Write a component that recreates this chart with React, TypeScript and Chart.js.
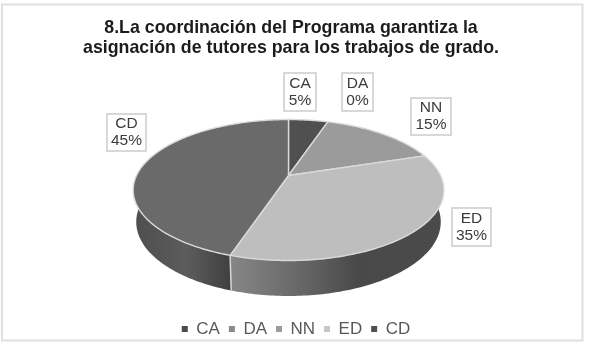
import React, { useEffect, useRef } from "react";
import { Chart, registerables } from "chart.js";

Chart.register(...registerables);

const categories = ["CA", "DA", "NN", "ED", "CD"];
const values = [5, 0, 15, 35, 45];
const titleLines = ["8.La coordinación del Programa garantiza la", "asignación de tutores para los trabajos de grado."];
const topColors = ["#505050", "#8a8a8a", "#9b9b9b", "#bebebe", "#6a6a6a"];
const legendColors = ["#4a4a4a", "#8a8a8a", "#9b9b9b", "#c6c6c6", "#505050"];

const labelBoxes = [
  [284, 73, 32, 38],
  [342, 73, 31, 38],
  [411, 98, 40, 37],
  [452, 208, 39, 38],
  [107, 114, 39, 37],
];

const K = 0.206;
const project = (a: number, cx: number, cy: number, A: number, B: number) => {
  const u = Math.cos(a);
  const v = Math.sin(a);
  const w = 1 - K * v;
  return [cx + (A * u) / w, cy + (B * v) / w];
};
const topP = (a: number) => project(a, 288.5, 175.5, 152, 67.5);
const lowP = (a: number) => project(a, 288.5, 206.7, 149, 70.9);

const arcPoints = (s: number, e: number, f: (a: number) => number[]) => {
  const out: number[][] = [];
  const n = Math.max(2, Math.ceil(Math.abs(e - s) * 60));
  for (let i = 0; i <= n; i++) out.push(f(s + ((e - s) * i) / n));
  return out;
};

const pie3d = {
  id: "pie3d",
  afterLayout(chart: any) {
    chart.legend.left += 5;
    chart.legend.right += 5;
    chart.legend.top += 2.5;
    chart.legend.bottom += 2.5;
  },
  beforeDraw(chart: any) {
    const { ctx, width, height } = chart;
    ctx.save();
    ctx.fillStyle = "#ffffff";
    ctx.fillRect(0, 0, width, height);
    ctx.strokeStyle = "#e0e0e0";
    ctx.lineWidth = 2;
    ctx.strokeRect(2, 4.5, 580.5, 336);
    ctx.restore();
  },
  beforeDatasetDraw(chart: any) {
    const { ctx } = chart;
    const arcs = chart.getDatasetMeta(0).data;
    ctx.save();
    ctx.lineJoin = "round";
    const front = (s: number, e: number) => [Math.max(s, 0), Math.min(e, Math.PI)];
    arcs.forEach((arc: any, i: number) => {
      const [s, e] = front(arc.startAngle, arc.endAngle);
      if (e <= s) return;
      const top = arcPoints(s, e, topP);
      const low = arcPoints(e, s, lowP);
      const x0 = Math.min(...top.map((p) => p[0]));
      const x1 = Math.max(...top.map((p) => p[0]));
      const g = ctx.createLinearGradient(x0, 0, x1, 0);
      if (i === 3) {
        g.addColorStop(0, "#868686");
        g.addColorStop(0.3, "#6a6a6a");
        g.addColorStop(0.6, "#494949");
        g.addColorStop(1, "#4b4b4b");
      } else {
        g.addColorStop(0, "#4e4e4e");
        g.addColorStop(0.55, "#5c5c5c");
        g.addColorStop(1, "#404040");
      }
      ctx.beginPath();
      [...top, ...low].forEach((p, j) => (j ? ctx.lineTo(p[0], p[1]) : ctx.moveTo(p[0], p[1])));
      ctx.closePath();
      ctx.fillStyle = g;
      ctx.fill();
    });
    const split = arcs[3].endAngle;
    const a = topP(split);
    const b = lowP(split);
    ctx.strokeStyle = "#d8d8d8";
    ctx.lineWidth = 1.5;
    ctx.beginPath();
    ctx.moveTo(a[0], a[1]);
    ctx.lineTo(b[0], b[1]);
    ctx.stroke();
    const hub = [288.5, 175.5];
    arcs.forEach((arc: any, i: number) => {
      if (arc.endAngle - arc.startAngle <= 0) return;
      const pts = arcPoints(arc.startAngle, arc.endAngle, topP);
      ctx.beginPath();
      ctx.moveTo(hub[0], hub[1]);
      pts.forEach((p) => ctx.lineTo(p[0], p[1]));
      ctx.closePath();
      ctx.fillStyle = topColors[i];
      ctx.fill();
      ctx.strokeStyle = "#dadada";
      ctx.lineWidth = 1.4;
      ctx.stroke();
    });
    ctx.restore();
    return false;
  },
  afterDatasetsDraw(chart: any) {
    const { ctx } = chart;
    const total = values.reduce((a, b) => a + b, 0);
    ctx.save();
    ctx.font = '15.5px "Liberation Sans"';
    ctx.textAlign = "center";
    ctx.textBaseline = "middle";
    labelBoxes.forEach((b, i) => {
      ctx.strokeStyle = "#cfcfcf";
      ctx.lineWidth = 1.6;
      ctx.fillStyle = "#ffffff";
      ctx.fillRect(b[0], b[1], b[2], b[3]);
      ctx.strokeRect(b[0], b[1], b[2], b[3]);
      ctx.fillStyle = "#3c3c3c";
      const cx = b[0] + b[2] / 2;
      const cy = b[1] + b[3] / 2;
      ctx.fillText(categories[i], cx, cy - 8.5);
      ctx.fillText(`${Math.round((values[i] / total) * 100)}%`, cx, cy + 8.5);
    });
    ctx.restore();
  },
};

export default function App() {
  const ref = useRef<HTMLCanvasElement>(null);
  useEffect(() => {
    document.body.style.margin = "0";
    const chart = new Chart(ref.current as HTMLCanvasElement, {
      type: "pie",
      data: {
        labels: categories,
        datasets: [{ data: values, backgroundColor: topColors, borderWidth: 0 }],
      },
      plugins: [pie3d],
      options: {
        animation: false,
        responsive: false,
        layout: { padding: { top: 4, bottom: 1, right: 7 } },
        plugins: {
          tooltip: { enabled: false },
          title: {
            display: true,
            text: titleLines,
            color: "#1c1c1c",
            font: { family: "Liberation Sans", size: 17.8, weight: "bold", lineHeight: 1.12 },
            padding: { top: 14, bottom: 10 },
          },
          legend: {
            position: "bottom",
            labels: {
              boxWidth: 6,
              boxHeight: 6,
              padding: 9,
              color: "#595959",
              font: { family: "Liberation Sans", size: 17 },
              generateLabels: () =>
                categories.map((c, i) => ({
                  text: c,
                  fillStyle: legendColors[i],
                  strokeStyle: legendColors[i],
                  lineWidth: 0,
                  fontColor: "#595959",
                  datasetIndex: 0,
                  index: i,
                })),
            },
          },
        },
      },
    } as any);
    return () => chart.destroy();
  }, []);
  return (
    <canvas
      ref={ref}
      width={589}
      height={346}
      style={{ display: "block", width: 589, height: 346, filter: "blur(0.55px)" }}
    />
  );
}
